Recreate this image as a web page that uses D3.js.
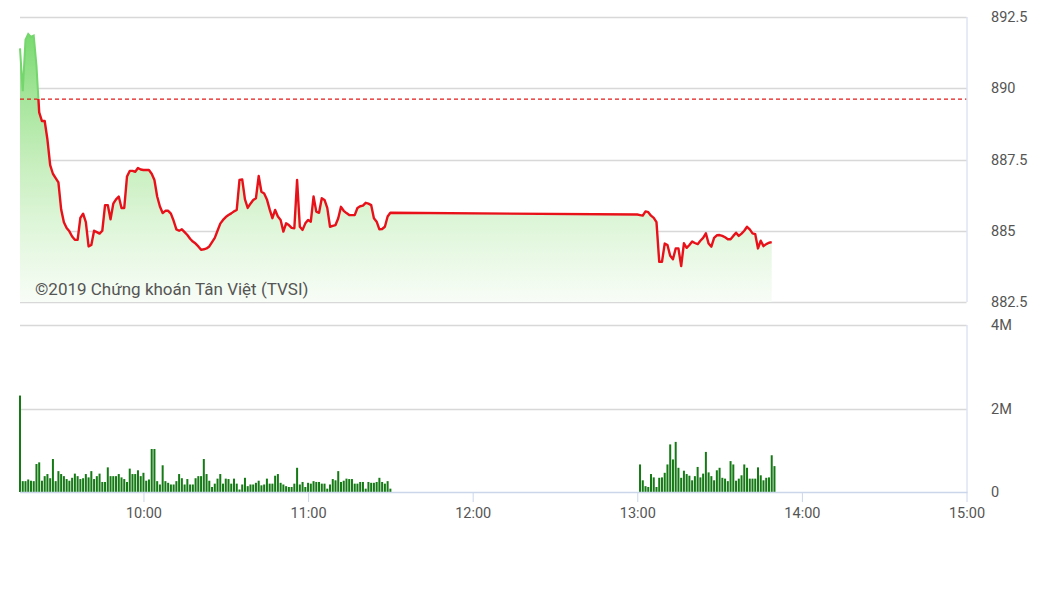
<!DOCTYPE html>
<html><head><meta charset="utf-8">
<script src="https://cdn.jsdelivr.net/npm/d3@7"></script>
<style>body{margin:0;background:#fff}svg{display:block}text{font-family:Roboto,"Noto Sans",sans-serif}</style>
</head><body><svg id="c" width="1049" height="589"></svg>
<script>
// ---- data ----
const sessionStart = "09:15", sessionEnd = "15:00";
const morningStart = "09:15";      // one value per minute
const morningPrices = [891.4,889.9,891.7,891.9,891.8,891.85,890.8,889.15,888.85,888.85,
888.2,887.3,887.0,886.85,886.7,885.75,885.3,885.1,884.98,884.8,
884.68,884.68,885.45,885.6,885.3,884.45,884.5,885.0,884.95,884.9,
885.0,885.9,885.9,885.4,885.95,886.1,886.2,885.8,885.8,886.9,
887.1,887.1,887.07,887.2,887.15,887.13,887.13,887.13,887.0,886.78,
886.2,885.85,885.62,885.7,885.7,885.6,885.35,885.05,885.0,885.05,
884.95,884.85,884.72,884.62,884.55,884.45,884.33,884.35,884.38,884.45,
884.6,884.75,885.0,885.25,885.38,885.48,885.55,885.61,885.68,885.73,
886.78,886.8,886.1,885.8,885.95,886.08,886.14,886.92,886.37,886.31,
886.1,885.75,885.44,885.73,885.5,885.38,884.97,885.26,885.2,885.1,
885.09,886.78,885.14,885.03,885.26,885.38,885.32,886.2,885.67,885.63,
886.14,886.08,885.8,885.14,885.17,885.2,885.44,885.84,885.7,885.62,
885.55,885.55,885.55,885.8,885.86,885.88,885.98,885.95,885.9,885.44,
885.32,885.05,885.06,885.14,885.5,885.63];
const afternoonStart = "13:00";
const afternoonPrices = [885.57,885.55,885.53,885.68,885.65,885.53,885.45,885.3,883.91,883.91,
884.55,884.5,884.12,884.0,884.38,884.38,883.76,884.56,884.4,884.5,
884.62,884.57,884.53,884.65,884.75,884.91,884.55,884.44,884.75,884.84,
884.85,884.82,884.77,884.7,884.7,884.82,884.93,884.82,884.9,885.0,
885.14,885.05,884.91,884.88,884.38,884.65,884.46,884.53,884.58,884.6];
const referencePrice = 889.62;
// volume in millions of shares
const morningVolStart = "09:15";
const morningVolumes = [2.31,0.26,0.26,0.3,0.27,0.26,0.67,0.71,0.27,0.38,
0.43,0.33,0.79,0.26,0.5,0.43,0.38,0.31,0.27,0.34,
0.44,0.38,0.31,0.33,0.43,0.35,0.5,0.31,0.38,0.44,
0.24,0.24,0.59,0.38,0.38,0.38,0.43,0.35,0.31,0.24,
0.56,0.43,0.43,0.52,0.38,0.46,0.27,0.3,1.03,1.03,
0.26,0.18,0.64,0.26,0.22,0.18,0.18,0.26,0.43,0.33,
0.18,0.31,0.18,0.18,0.33,0.38,0.38,0.79,
0.43,0.27,0.12,0.2,0.32,0.43,0.2,0.32,0.31,0.2,
0.32,0.2,0.06,0.18,0.34,0.14,0.18,0.18,0.22,0.27,
0.16,0.18,0.32,0.2,0.2,0.39,0.43,0.22,0.18,0.14,
0.12,0.12,0.2,0.58,0.18,0.24,0.12,0.22,0.2,0.26,0.24,
0.24,0.2,0.2,0.08,0.18,0.31,0.28,0.5,0.24,0.27,
0.32,0.31,0.31,0.2,0.2,0.24,0.24,0.08,0.24,0.22,
0.22,0.24,0.34,0.24,0.2,0.26,0.08];
const afternoonVolStart = "13:01";
const afternoonVolumes = [0.66,0.28,0.14,0.12,0.43,0.35,0.12,0.34,0.35,0.46,
0.66,1.14,0.78,1.2,0.58,0.34,0.51,0.43,0.39,0.28,
0.38,0.6,0.35,0.44,0.96,0.47,0.38,0.28,0.52,0.58,
0.34,0.32,0.26,0.74,0.66,0.27,0.32,0.4,0.66,0.58,
0.32,0.32,0.32,0.59,0.4,0.28,0.34,0.35,0.88,0.62];
const priceTicks = [882.5, 885, 887.5, 890, 892.5];
const priceTickLabels = ["882.5","885","887.5","890","892.5"];
const volTicks = [0, 2, 4];
const volTickLabels = ["0","2M","4M"];
const timeTicks = ["10:00","11:00","12:00","13:00","14:00","15:00"];
const copyright = "©2019 Chứng khoán Tân Việt (TVSI)";

// ---- helpers ----
const parseT = s => { const [h,m] = s.split(":").map(Number); return new Date(2019,0,1,h,m); };
const series = (start, vals) => { const t0 = parseT(start); return vals.map((v,i)=>({t:new Date(t0.getTime()+i*60000), v})); };
const priceData = series(morningStart, morningPrices).concat(series(afternoonStart, afternoonPrices));
const volData = series(morningVolStart, morningVolumes).concat(series(afternoonVolStart, afternoonVolumes));

const svg = d3.select("#c");
const L = 20, R = 966.5;
const x = d3.scaleTime().domain([parseT(sessionStart), parseT(sessionEnd)]).range([L, R]);
const yP = d3.scaleLinear().domain([882.5, 892.5]).range([302, 17]);
const yV = d3.scaleLinear().domain([0, 4]).range([492, 325]);

// gradient
const defs = svg.append("defs");
const g = defs.append("linearGradient").attr("id","fillG").attr("gradientUnits","userSpaceOnUse")
  .attr("x1",0).attr("x2",0).attr("y1",yP(d3.max(priceData,d=>d.v))).attr("y2",302);
[[0,"#78da6e"],[0.24,"#a6e59c"],[0.5,"#c9efc0"],[0.72,"#dff6da"],[1,"#f8fdf7"]]
  .forEach(([o,c])=>g.append("stop").attr("offset",o).attr("stop-color",c));
defs.append("clipPath").attr("id","above").append("rect").attr("x",0).attr("y",0).attr("width",1049).attr("height",yP(referencePrice));
defs.append("clipPath").attr("id","below").append("rect").attr("x",0).attr("y",yP(referencePrice)).attr("width",1049).attr("height",600);

// grid - price
svg.append("g").selectAll("line").data(priceTicks).join("line")
  .attr("x1",L).attr("x2",R).attr("y1",d=>Math.round(yP(d))+0.5).attr("y2",d=>Math.round(yP(d))+0.5)
  .attr("stroke","#d8d8d8").attr("stroke-width",1.5);
// grid - volume
svg.append("g").selectAll("line").data(volTicks.filter(d=>d>0)).join("line")
  .attr("x1",L).attr("x2",R).attr("y1",d=>Math.round(yV(d))+0.5).attr("y2",d=>Math.round(yV(d))+0.5)
  .attr("stroke","#d8d8d8").attr("stroke-width",1.5);

// area
svg.append("path").datum(priceData)
  .attr("d", d3.area().x(d=>x(d.t)).y0(302).y1(d=>yP(d.v)))
  .attr("fill","url(#fillG)");

// reference line
svg.append("line").attr("x1",L).attr("x2",R).attr("y1",yP(referencePrice)).attr("y2",yP(referencePrice))
  .attr("stroke","#e41a1a").attr("stroke-width",1.3).attr("stroke-dasharray","4,3");

// price line (green above reference, red below)
const lineGen = d3.line().x(d=>x(d.t)).y(d=>yP(d.v));
svg.append("path").datum(priceData).attr("d",lineGen).attr("fill","none")
  .attr("stroke","#74d66c").attr("stroke-width",2).attr("clip-path","url(#above)");
svg.append("path").datum(priceData).attr("d",lineGen).attr("fill","none")
  .attr("stroke","#e8111a").attr("stroke-width",2.4).attr("stroke-linejoin","round").attr("clip-path","url(#below)");

// volume bars
svg.append("g").selectAll("rect").data(volData).join("rect")
  .attr("x",d=>x(d.t)-1).attr("width",2)
  .attr("y",d=>yV(d.v)).attr("height",d=>yV(0)-yV(d.v))
  .attr("fill","#157a15");

// axis lines
svg.append("line").attr("x1",R+0.5).attr("x2",R+0.5).attr("y1",17).attr("y2",302).attr("stroke","#ccd6eb");
svg.append("line").attr("x1",R+0.5).attr("x2",R+0.5).attr("y1",325).attr("y2",492).attr("stroke","#ccd6eb");
svg.append("line").attr("x1",L).attr("x2",R+1).attr("y1",492.5).attr("y2",492.5).attr("stroke","#ccd6eb").attr("stroke-width",1.5);

// x axis
const xAxis = d3.axisBottom(x).tickValues(timeTicks.map(parseT)).tickFormat(d3.timeFormat("%H:%M")).tickSize(10).tickPadding(6);
const xa = svg.append("g").attr("transform","translate(0,492)").call(xAxis);
xa.select(".domain").remove();
xa.selectAll(".tick line").attr("stroke","#ccd6eb");
xa.selectAll(".tick text").attr("fill","#555").attr("font-size",14.5);

// y labels (price)
const yPa = d3.axisRight(yP).tickValues(priceTicks).tickFormat((d,i)=>priceTickLabels[i]).tickSize(0).tickPadding(0);
const ypg = svg.append("g").attr("transform","translate(991,0)").call(yPa);
ypg.select(".domain").remove();
ypg.selectAll("text").attr("fill","#555").attr("font-size",14.5);
const yVa = d3.axisRight(yV).tickValues(volTicks).tickFormat((d,i)=>volTickLabels[i]).tickSize(0).tickPadding(0);
const yvg = svg.append("g").attr("transform","translate(991,0)").call(yVa);
yvg.select(".domain").remove();
yvg.selectAll("text").attr("fill","#555").attr("font-size",14.5);

// copyright
svg.append("text").attr("x",35).attr("y",295).attr("fill","#555").attr("font-size",17).text(copyright);
</script></body></html>
